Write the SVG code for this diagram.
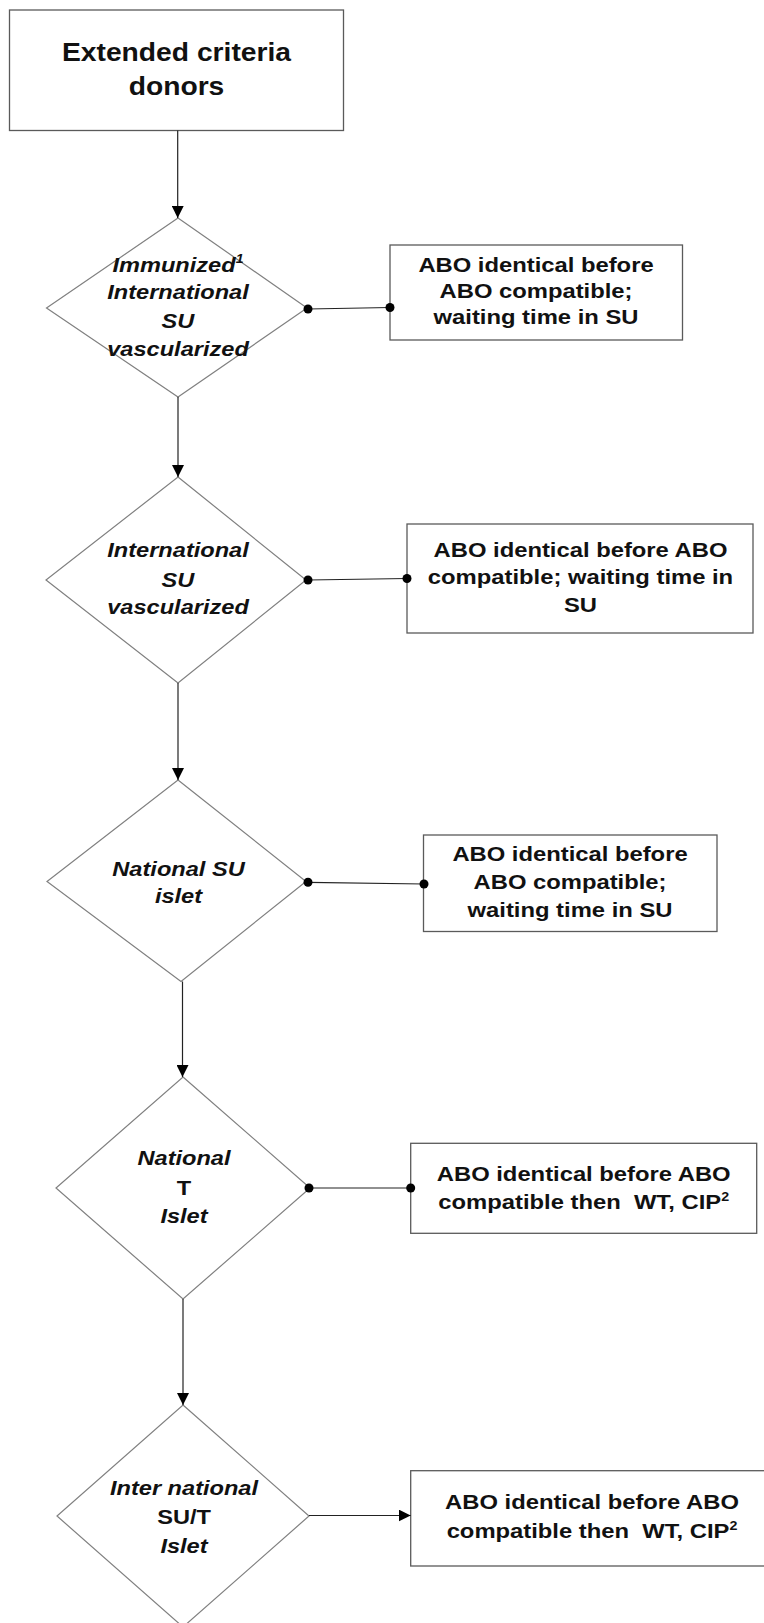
<svg xmlns="http://www.w3.org/2000/svg" width="764" height="1623" viewBox="0 0 764 1623">
<style>
.box{fill:#fff;stroke:#5a5a5a;stroke-width:1.3}
.dia{fill:#fff;stroke:#808080;stroke-width:1.2}
.t{font-family:"Liberation Sans",Arial,sans-serif;font-weight:bold;font-size:20px;fill:#111;text-anchor:middle}
.ti{font-style:italic}
.big{font-size:25px}
.conn{stroke:#222;stroke-width:1.2;fill:none}
.arr{stroke:#222;stroke-width:1.2;fill:none;marker-end:url(#ah)}
.dot{fill:#000}
</style>
<defs>
<marker id="ah" markerUnits="userSpaceOnUse" markerWidth="12" markerHeight="12" refX="12" refY="6" orient="auto">
<path d="M0,0 L12,6 L0,12 z" fill="#000"/>
</marker>
</defs>
<rect width="764" height="1623" fill="#fff"/>

<g id="n0">
<rect class="box" x="9.5" y="10" width="334" height="120.5"/>
<g transform="translate(176.5,0) scale(1.13,1)">
<text class="t big" x="0" y="61">Extended criteria</text>
<text class="t big" x="0" y="95">donors</text>
</g>
</g>

<g id="d1">
<polygon class="dia" points="178,218 307,308 178,397 46.5,308"/>
<g transform="translate(178,0) scale(1.18,1)">
<text class="t ti" x="0" y="271.7">Immunized<tspan dy="-9" font-size="12">1</tspan></text>
<text class="t ti" x="0" y="299.3">International</text>
<text class="t ti" x="0" y="328">SU</text>
<text class="t ti" x="0" y="356">vascularized</text>
</g>
</g>

<g id="b1">
<rect class="box" x="390" y="245" width="292.5" height="95"/>
<g transform="translate(536,0) scale(1.19,1)">
<text class="t" x="0" y="271.7">ABO identical before</text>
<text class="t" x="0" y="298">ABO compatible;</text>
<text class="t" x="0" y="324.5">waiting time in SU</text>
</g>
</g>

<g id="d2">
<polygon class="dia" points="178,477 306,580 178,683 46,580"/>
<g transform="translate(178,0) scale(1.18,1)">
<text class="t ti" x="0" y="557">International</text>
<text class="t ti" x="0" y="586.7">SU</text>
<text class="t ti" x="0" y="614">vascularized</text>
</g>
</g>

<g id="b2">
<rect class="box" x="407" y="524" width="346" height="109"/>
<g transform="translate(580.5,0) scale(1.19,1)">
<text class="t" x="0" y="556.7">ABO identical before ABO</text>
<text class="t" x="0" y="584">compatible; waiting time in</text>
<text class="t" x="0" y="611.7">SU</text>
</g>
</g>

<g id="d3">
<polygon class="dia" points="178,780 306,881.5 181,981.5 47,881.5"/>
<g transform="translate(178.5,0) scale(1.18,1)">
<text class="t ti" x="0" y="876">National SU</text>
<text class="t ti" x="0" y="903">islet</text>
</g>
</g>

<g id="b3">
<rect class="box" x="423.5" y="835" width="293.5" height="96.5"/>
<g transform="translate(570,0) scale(1.19,1)">
<text class="t" x="0" y="861">ABO identical before</text>
<text class="t" x="0" y="889">ABO compatible;</text>
<text class="t" x="0" y="917">waiting time in SU</text>
</g>
</g>

<g id="d4">
<polygon class="dia" points="183,1077 310,1188 183,1299 56,1188"/>
<g transform="translate(184,0) scale(1.18,1)">
<text class="t ti" x="0" y="1165">National</text>
<text class="t" x="0" y="1195">T</text>
<text class="t ti" x="0" y="1222.7">Islet</text>
</g>
</g>

<g id="b4">
<rect class="box" x="410.7" y="1143.3" width="346" height="90"/>
<g transform="translate(583.7,0) scale(1.19,1)">
<text class="t" x="0" y="1180.7">ABO identical before ABO</text>
<text class="t" x="0" y="1209">compatible then&#160; WT, CIP<tspan dy="-8" font-size="12">2</tspan></text>
</g>
</g>

<g id="d5">
<polygon class="dia" points="183,1405 309,1516 183,1627 57,1516"/>
<g transform="translate(184,0) scale(1.18,1)">
<text class="t ti" x="0" y="1495">Inter national</text>
<text class="t" x="0" y="1524">SU/T</text>
<text class="t ti" x="0" y="1552.7">Islet</text>
</g>
</g>

<g id="b5">
<rect class="box" x="410.7" y="1470.7" width="362" height="95.3"/>
<g transform="translate(592,0) scale(1.19,1)">
<text class="t" x="0" y="1509.3">ABO identical before ABO</text>
<text class="t" x="0" y="1538.3">compatible then&#160; WT, CIP<tspan dy="-8" font-size="12">2</tspan></text>
</g>
</g>

<g id="connectors">
<line class="arr" x1="177.7" y1="130.5" x2="177.7" y2="218"/>
<line class="arr" x1="178" y1="397" x2="178" y2="477"/>
<line class="arr" x1="178" y1="683" x2="178" y2="780"/>
<line class="arr" x1="182.5" y1="981.5" x2="182.5" y2="1077"/>
<line class="arr" x1="183" y1="1299" x2="183" y2="1405"/>
<line class="arr" x1="309" y1="1515.5" x2="410.7" y2="1515.5"/>
<line class="conn" x1="308" y1="309" x2="390" y2="307.5"/>
<circle class="dot" cx="308" cy="309" r="4.5"/>
<circle class="dot" cx="390" cy="307.5" r="4.5"/>
<line class="conn" x1="308" y1="580" x2="407" y2="578.5"/>
<circle class="dot" cx="308" cy="580" r="4.5"/>
<circle class="dot" cx="407" cy="578.5" r="4.5"/>
<line class="conn" x1="308" y1="882.3" x2="424" y2="884"/>
<circle class="dot" cx="308" cy="882.3" r="4.5"/>
<circle class="dot" cx="424" cy="884" r="4.5"/>
<line class="conn" x1="309" y1="1188" x2="410.7" y2="1188"/>
<circle class="dot" cx="309" cy="1188" r="4.5"/>
<circle class="dot" cx="410.7" cy="1188" r="4.5"/>
</g>
</svg>
